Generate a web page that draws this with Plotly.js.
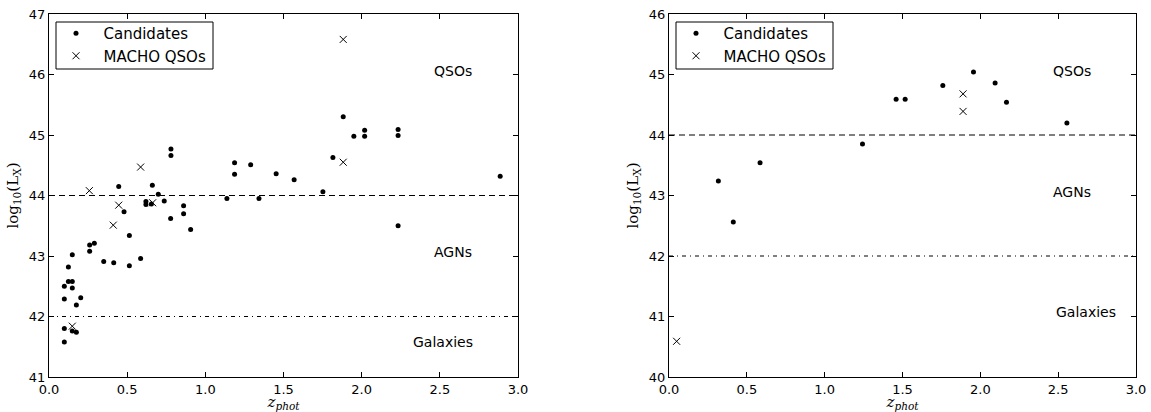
<!DOCTYPE html>
<html>
<head>
<meta charset="utf-8">
<script src="https://cdn.plot.ly/plotly-3.0.1.min.js"></script>
<style>html,body{margin:0;padding:0;background:#fff;}#chart{width:1151px;height:412px;}</style>
</head>
<body>
<div id="chart"></div>
<script>
// Left panel: candidates
const leftCandZ = [0.446,0.661,0.699,0.78,0.78,1.138,1.187,1.187,1.29,1.343,1.453,0.48,0.62,0.62,0.655,0.737,0.778,0.861,0.861,0.906,0.26,0.26,0.29,0.149,0.124,0.124,0.149,0.098,0.149,0.098,0.203,0.175,0.35,0.414,0.514,0.514,0.586,0.098,0.149,0.175,0.098,1.882,1.95,2.019,2.019,2.233,2.233,1.816,1.568,1.752,2.886,2.233];
const leftCandL = [44.15,44.17,44.02,44.77,44.66,43.95,44.54,44.35,44.51,43.95,44.36,43.73,43.90,43.85,43.86,43.91,43.62,43.83,43.70,43.44,43.18,43.08,43.21,43.02,42.82,42.58,42.58,42.50,42.47,42.29,42.31,42.19,42.91,42.89,43.34,42.84,42.96,41.80,41.76,41.74,41.58,45.30,44.98,45.08,44.98,45.09,44.99,44.63,44.26,44.06,44.32,43.50];
// Left panel: MACHO QSOs
const leftMachoZ = [0.258,0.586,0.446,0.411,0.663,0.149,1.882,1.882];
const leftMachoL = [44.08,44.47,43.84,43.51,43.88,41.84,46.58,44.55];
// Right panel: candidates
const rightCandZ = [0.317,0.585,1.243,0.413,1.459,1.517,1.759,1.956,2.095,2.168,2.556];
const rightCandL = [43.24,43.54,43.85,42.56,44.59,44.59,44.82,45.04,44.86,44.54,44.20];
// Right panel: MACHO QSOs
const rightMachoZ = [0.049,1.889,1.889];
const rightMachoL = [40.59,44.68,44.39];
// Class boundaries
const qsoBoundary = 44;
const agnBoundary = 42;
const zRange = [0, 3];
const seriesNames = ['Candidates','MACHO QSOs'];
const regionLabels = ['QSOs','AGNs','Galaxies'];
const leftLabelZ = [2.585, 2.585, 2.52];
const leftLabelL = [46.06, 43.07, 41.58];
const rightLabelZ = [2.59, 2.59, 2.68];
const rightLabelL = [45.06, 43.06, 41.07];

const W = 1151, H = 412, MT = 14, MB = 35;
const PH = H - MT - MB;
function px2x(p){ return p / W; }
function py2y(p){ return 1 - (p - MT) / PH; }

const dotMarker = {symbol:'circle', size:5, color:'#000'};
const xMarker = {symbol:'x-thin', size:7, color:'#000', line:{color:'#000', width:1}};
const pad = '\u2002';

const traces = [
  {x:leftCandZ, y:leftCandL, mode:'markers', type:'scatter', name:pad+seriesNames[0], marker:dotMarker, xaxis:'x', yaxis:'y', legend:'legend'},
  {x:leftMachoZ, y:leftMachoL, mode:'markers', type:'scatter', name:pad+seriesNames[1], marker:xMarker, xaxis:'x', yaxis:'y', legend:'legend'},
  {x:rightCandZ, y:rightCandL, mode:'markers', type:'scatter', name:pad+seriesNames[0], marker:dotMarker, xaxis:'x2', yaxis:'y2', legend:'legend2'},
  {x:rightMachoZ, y:rightMachoL, mode:'markers', type:'scatter', name:pad+seriesNames[1], marker:xMarker, xaxis:'x2', yaxis:'y2', legend:'legend2'}
];

function hline(xr, yr, yv, dash){
  return {type:'line', xref:xr, yref:yr, x0:zRange[0], x1:zRange[1], y0:yv, y1:yv, line:{color:'#000', width:1, dash:dash}, layer:'below'};
}
function legendBox(x0p, x1p){
  return {type:'rect', xref:'paper', yref:'paper', x0:px2x(x0p), x1:px2x(x1p), y0:py2y(69), y1:py2y(22), line:{color:'#000', width:1}, fillcolor:'rgba(255,255,255,0)', layer:'above'};
}
const shapes = [
  hline('x','y',qsoBoundary,'6px,4px'),
  hline('x','y',agnBoundary,'4px,4px,1px,4px'),
  hline('x2','y2',qsoBoundary,'6px,4px'),
  hline('x2','y2',agnBoundary,'4px,4px,1px,4px'),
  legendBox(56, 213),
  legendBox(676, 833)
];
const annotations = [];
regionLabels.forEach((t,i)=>{
  annotations.push({xref:'x', yref:'y', x:leftLabelZ[i], y:leftLabelL[i], text:t, showarrow:false, font:{family:'DejaVu Sans', size:14, color:'#000'}});
  annotations.push({xref:'x2', yref:'y2', x:rightLabelZ[i], y:rightLabelL[i], text:t, showarrow:false, font:{family:'DejaVu Sans', size:14, color:'#000'}});
});

const tickFont = {family:'DejaVu Sans', size:13, color:'#000'};
function xax(domain, anchor){
  return {domain:domain, anchor:anchor, range:zRange, tickvals:[0,0.5,1,1.5,2,2.5,3], ticktext:['0.0','0.5','1.0','1.5','2.0','2.5','3.0'],
    ticks:'inside', ticklen:5, tickcolor:'#000', showline:true, linecolor:'#000', linewidth:1, mirror:'ticks', showgrid:false, zeroline:false,
    tickfont:tickFont, title:{text:'<i>z</i><sub><i>phot</i></sub>', font:{family:'DejaVu Serif', size:15, color:'#000'}, standoff:1}};
}
function yax(range, anchor){
  const tv=[]; for(let v=range[0]; v<=range[1]; v++) tv.push(v);
  return {domain:[0,1], anchor:anchor, range:range, tickvals:tv,
    ticks:'inside', ticklen:5, tickcolor:'#000', showline:true, linecolor:'#000', linewidth:1, mirror:'ticks', showgrid:false, zeroline:false,
    tickfont:tickFont, title:{text:'log<sub>10</sub>(L<sub>X</sub>)', font:{family:'DejaVu Serif', size:15, color:'#000'}, standoff:6}};
}

const legendStyle = {font:{family:'DejaVu Sans', size:15, color:'#000'}, borderwidth:0, bgcolor:'rgba(255,255,255,0)', xanchor:'left', yanchor:'top', tracegroupgap:0, itemwidth:30};

const layout = {
  width:W, height:H,
  margin:{l:0, r:0, t:MT, b:MB},
  paper_bgcolor:'#fff', plot_bgcolor:'#fff',
  showlegend:true,
  xaxis: xax([49/W, 518/W], 'y'),
  yaxis: yax([41,47], 'x'),
  xaxis2: xax([669/W, 1136/W], 'y2'),
  yaxis2: yax([40,46], 'x2'),
  legend: Object.assign({x:px2x(56), y:py2y(17)}, legendStyle),
  legend2: Object.assign({x:px2x(676), y:py2y(17)}, legendStyle),
  shapes:shapes,
  annotations:annotations
};

Plotly.newPlot('chart', traces, layout, {staticPlot:true, displayModeBar:false});
</script>
</body>
</html>
